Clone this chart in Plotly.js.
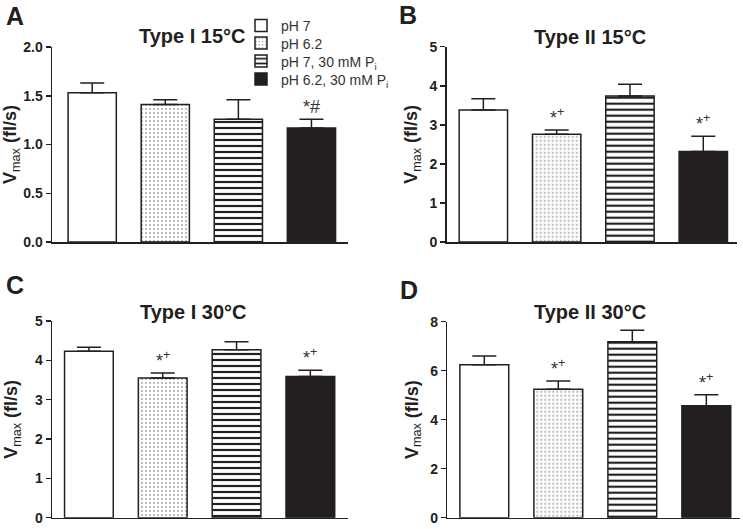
<!DOCTYPE html>
<html>
<head>
<meta charset="utf-8">
<script src="https://cdn.plot.ly/plotly-3.0.1.min.js"></script>
<style>html,body{margin:0;padding:0;background:#fff;}#chart{width:743px;height:529px;}</style>
</head>
<body>
<div id="chart"></div>
<script>
// ---- data ----
const conditions = ["pH 7", "pH 6.2", "pH 7, 30 mM P<sub>i</sub>", "pH 6.2, 30 mM P<sub>i</sub>"];
const panelTitles = ["Type I 15°C", "Type II 15°C", "Type I 30°C", "Type II 30°C"];
const panelLetters = ["A", "B", "C", "D"];

const vmaxTypeI15 = [1.53, 1.41, 1.26, 1.17];
const semTypeI15 = [0.10, 0.05, 0.20, 0.09];
const vmaxTypeII15 = [3.38, 2.76, 3.74, 2.32];
const semTypeII15 = [0.29, 0.11, 0.30, 0.39];
const vmaxTypeI30 = [4.23, 3.55, 4.27, 3.59];
const semTypeI30 = [0.10, 0.13, 0.20, 0.16];
const vmaxTypeII30 = [6.24, 5.24, 7.18, 4.57];
const semTypeII30 = [0.36, 0.34, 0.47, 0.45];

const sigTypeI15 = ["", "", "", "*#"];
const sigTypeII15 = ["", "*<sup>+</sup>", "", "*<sup>+</sup>"];
const sigTypeI30 = ["", "*<sup>+</sup>", "", "*<sup>+</sup>"];
const sigTypeII30 = ["", "*<sup>+</sup>", "", "*<sup>+</sup>"];

const yTicks15I = [0, 0.5, 1.0, 1.5, 2.0];
const yTicks15II = [0, 1, 2, 3, 4, 5];
const yTicks30I = [0, 1, 2, 3, 4, 5];
const yTicks30II = [0, 2, 4, 6, 8];

// ---- styling ----
const INK = "#231f20";
const condStyle = [
  {color: "#ffffff", pattern: {shape: ""}},
  {color: "#ffffff", pattern: {shape: ".", fgcolor: "#444444", bgcolor: "#ffffff", size: 4, solidity: 0.09}},
  {color: "#ffffff", pattern: {shape: "-", fgcolor: INK, bgcolor: "#ffffff", size: 6, solidity: 0.36}},
  {color: INK, pattern: {shape: ""}}
];

const panels = [
  {means: vmaxTypeI15, sems: semTypeI15, sig: sigTypeI15, ticks: yTicks15I, fmt: ".1f",
   xdom: [52, 348], ydom: [242, 47], xr: [-0.55, 3.5], standoff: 0},
  {means: vmaxTypeII15, sems: semTypeII15, sig: sigTypeII15, ticks: yTicks15II, fmt: "d",
   xdom: [446.7, 737], ydom: [242, 46.7], xr: [-0.5, 3.46], standoff: 7},
  {means: vmaxTypeI30, sems: semTypeI30, sig: sigTypeI30, ticks: yTicks30I, fmt: "d",
   xdom: [52, 348], ydom: [517.7, 321], xr: [-0.5, 3.51], standoff: 12},
  {means: vmaxTypeII30, sems: semTypeII30, sig: sigTypeII30, ticks: yTicks30II, fmt: "d",
   xdom: [447.3, 740], ydom: [517.7, 321.7], xr: [-0.5, 3.455], standoff: 7}
];

const W = 743, H = 529;
const traces = [];
const annotations = [];
const layout = {
  width: W, height: H,
  margin: {l: 0, r: 0, t: 0, b: 0},
  paper_bgcolor: "#ffffff", plot_bgcolor: "rgba(0,0,0,0)",
  barmode: "overlay",
  font: {family: "Liberation Sans, Arial, sans-serif", color: INK},
  showlegend: true
};

// one legend per row so the rows can sit as tightly as in the reference
const legendNames = ["legend", "legend2", "legend3", "legend4"];
const legendRowsY = [26, 43.5, 61.5, 79.5];
legendNames.forEach((ln, i) => {
  layout[ln] = {
    x: 241 / W, y: 1 - legendRowsY[i] / H, xanchor: "left", yanchor: "middle",
    bgcolor: "rgba(0,0,0,0)", font: {size: 14, color: "#333333"},
    itemwidth: 30, borderwidth: 0
  };
});

panels.forEach((p, pi) => {
  const sfx = pi === 0 ? "" : String(pi + 1);
  const xa = "x" + sfx, ya = "y" + sfx;
  const ymax = p.ticks[p.ticks.length - 1];
  layout["xaxis" + sfx] = {
    domain: [p.xdom[0] / W, p.xdom[1] / W], anchor: ya,
    type: "category", categoryorder: "array", categoryarray: conditions,
    range: p.xr, showline: true, linecolor: INK, linewidth: 1.5,
    ticks: "", showticklabels: false, showgrid: false, zeroline: false, fixedrange: true
  };
  layout["yaxis" + sfx] = {
    domain: [1 - p.ydom[0] / H, 1 - p.ydom[1] / H], anchor: xa,
    range: [0, ymax], tickvals: p.ticks, tickformat: p.fmt,
    showline: true, linecolor: INK, linewidth: 1.5,
    ticks: "outside", ticklen: 5, tickwidth: 1.5, tickcolor: INK,
    tickfont: {size: 14, weight: "bold", color: INK},
    showgrid: false, zeroline: false, fixedrange: true,
    title: {text: "V<sub><span style='font-weight:normal'>max</span></sub> (fl/s)", standoff: p.standoff,
            font: {size: 18, weight: "bold", color: INK}}
  };
  conditions.forEach((c, ci) => {
    traces.push({
      type: "bar", x: [c], y: [p.means[ci]], xaxis: xa, yaxis: ya,
      name: c, legendgroup: "c" + ci, showlegend: pi === 0, legend: legendNames[ci],
      width: 0.66,
      marker: {color: condStyle[ci].color, pattern: condStyle[ci].pattern,
               line: {color: INK, width: 1.5}},
      error_y: {type: "data", symmetric: false, array: [p.sems[ci]], arrayminus: [0],
                color: INK, thickness: 1.5, width: 12},
      hoverinfo: "skip"
    });
    if (p.sig[ci]) {
      annotations.push({
        xref: xa, yref: ya, x: c, y: p.means[ci] + p.sems[ci],
        text: p.sig[ci], showarrow: false, yanchor: "bottom", yshift: 0,
        font: {size: 18, color: "#333333"}
      });
    }
  });
});

// panel titles and letters
const titlePos = [[192, 36], [590, 37], [193, 312], [590, 312]];
const letterPos = [[15, 16], [408, 15], [15, 285], [409, 290]];
panelTitles.forEach((t, i) => {
  annotations.push({xref: "paper", yref: "paper", x: titlePos[i][0] / W, y: 1 - titlePos[i][1] / H,
    xanchor: "center", yanchor: "middle", text: t, showarrow: false,
    font: {size: 20, weight: "bold", color: INK}});
  annotations.push({xref: "paper", yref: "paper", x: letterPos[i][0] / W, y: 1 - letterPos[i][1] / H,
    xanchor: "center", yanchor: "middle", text: panelLetters[i], showarrow: false,
    font: {size: 25, weight: "bold", color: INK}});
});
layout.annotations = annotations;

Plotly.newPlot("chart", traces, layout, {displayModeBar: false, staticPlot: true});
</script>
</body>
</html>
